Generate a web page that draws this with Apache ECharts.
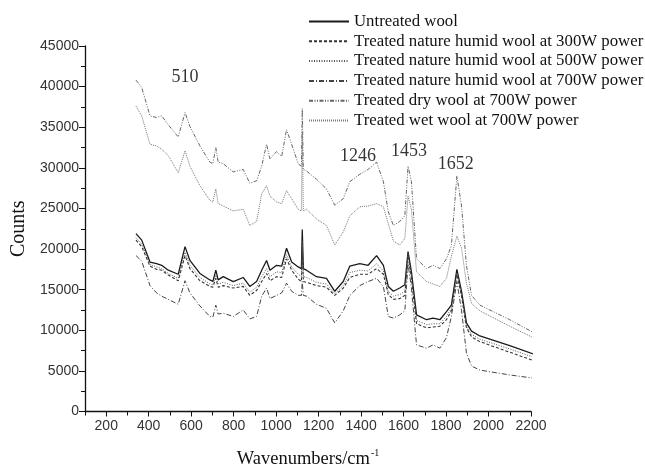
<!DOCTYPE html>
<html>
<head>
<meta charset="utf-8">
<script src="https://cdn.jsdelivr.net/npm/echarts@6/dist/echarts.min.js"></script>
<style>
  html, body { margin: 0; padding: 0; background: #fff; }
  #main { width: 645px; height: 474px; }
</style>
</head>
<body>
<div id="main"></div>
<script>
// wavenumber positions (as drawn against the x axis)
var wavenumbers = [340, 367, 406, 437, 461, 492, 539, 571, 594, 641, 688, 702, 716, 727, 751, 798, 845, 876, 908, 932,
  955, 971, 1002, 1026, 1049, 1073, 1104, 1119, 1123, 1128, 1143, 1190, 1237, 1276, 1316, 1347, 1394, 1433, 1473, 1505,
  1528, 1552, 1582, 1606, 1621, 1637, 1661, 1708, 1739, 1771, 1802, 1825, 1851, 1873, 1896, 1920, 1959, 2100, 2241];

var untreated = [21900, 21100, 18400, 18200, 18000, 17400, 16900, 20300, 18600, 17000, 16200, 16000, 17400, 16200, 16600, 16000, 16500, 15400, 16000, 17400,
  18600, 17400, 18000, 17900, 20100, 18400, 17800, 17600, 22400, 17600, 17400, 16600, 16400, 14800, 16000, 17900, 18200, 18000, 19200, 18000,
  15400, 14800, 15200, 15600, 19700, 17200, 11900, 11300, 11500, 11300, 12300, 13100, 17500, 14800, 10900, 9900, 9300, 8100, 6800];

var humid300 = [21100, 20300, 17900, 17500, 17400, 16800, 16100, 19200, 17600, 16100, 15400, 15300, 16400, 15300, 15500, 15200, 15400, 14300, 14900, 16000,
  17000, 16100, 16600, 16500, 18800, 17400, 16300, 16000, 20700, 16000, 15900, 15500, 15300, 14300, 15200, 16500, 16900, 16900, 17600, 16900,
  14400, 13800, 13900, 14300, 19300, 16400, 10800, 10300, 10400, 10500, 11300, 12400, 16900, 14200, 10300, 9200, 8600, 7300, 6000];

var humid500 = [21400, 20600, 18100, 17800, 17600, 17000, 16400, 19600, 18000, 16500, 15700, 15600, 16800, 15700, 15900, 15500, 15800, 14700, 15300, 16600,
  17600, 16600, 17200, 17100, 19300, 17800, 16900, 16600, 21000, 16600, 16500, 15900, 15700, 14500, 15500, 17100, 17400, 17300, 18200, 17300,
  14800, 14200, 14400, 14800, 19500, 16700, 11200, 10700, 10800, 10800, 11700, 12700, 17100, 14400, 10500, 9500, 8900, 7700, 6400];

var humid700 = [19200, 18500, 15500, 14600, 14200, 13800, 13200, 16100, 14600, 13000, 11700, 11600, 13100, 12000, 12100, 11700, 12500, 11400, 11700, 14200,
  15200, 13900, 14300, 14600, 15800, 14800, 14300, 14300, 16000, 14300, 14200, 13200, 12700, 10900, 12400, 14300, 15500, 16000, 16400, 15400,
  11700, 11500, 11900, 12400, 18200, 15200, 8200, 7800, 8200, 7800, 9100, 11700, 16000, 12400, 7200, 5600, 5100, 4500, 4000];

var dry700 = [40800, 39900, 36400, 36200, 36400, 35300, 33800, 36800, 35100, 32700, 30700, 30500, 32500, 30700, 30500, 29500, 29800, 28100, 28400, 30200,
  32900, 31100, 32000, 31400, 34700, 32900, 30500, 30200, 37300, 29800, 29600, 28600, 27400, 25400, 26200, 28300, 29200, 29800, 30700, 28300,
  24600, 22900, 23400, 24100, 30200, 28300, 18800, 17600, 18000, 17600, 18800, 20400, 29000, 25300, 18000, 14300, 13100, 11300, 9300];

var wet700 = [37600, 36400, 32900, 32700, 32300, 31500, 29400, 32100, 30200, 27800, 26000, 25800, 27400, 25600, 25300, 24700, 24900, 22900, 23400, 26800,
  27800, 26500, 25800, 25600, 27200, 26200, 24900, 24700, 34500, 24700, 24900, 23700, 22900, 20500, 22100, 24100, 25200, 25300, 25600, 25200,
  23100, 21000, 20500, 21300, 26500, 24900, 17200, 16000, 15700, 15400, 16400, 19100, 21600, 20100, 15800, 13300, 12400, 10500, 8700];

var seriesNames = [
  'Untreated wool',
  'Treated nature humid wool at 300W power',
  'Treated nature humid wool at 500W power',
  'Treated nature humid wool at 700W power',
  'Treated dry wool at 700W power',
  'Treated wet wool at 700W power'
];
var seriesValues = [untreated, humid300, humid500, humid700, dry700, wet700];

var xLabelValues = [200, 400, 600, 800, 1000, 1200, 1400, 1600, 1800, 2000, 2200];
var xMinorValues = [100, 300, 500, 700, 900, 1100, 1300, 1500, 1700, 1900, 2100];

var peakTexts = ['510', '1246', '1453', '1652'];
var peakAt = [[571, 41100], [1385, 31400], [1625, 32000], [1846, 30450]];

var lineStyles = [
  { color: '#1a1a1a', width: 1.3, type: 'solid' },
  { color: '#333', width: 1.1, type: [3, 2] },
  { color: '#555', width: 1, type: [1, 1.5] },
  { color: '#444', width: 1, type: [5, 2, 1, 2] },
  { color: '#666', width: 1, type: [4, 1.5, 1, 1.5, 1, 1.5] },
  { color: '#777', width: 1, type: [1, 1] }
];

var myChart = echarts.init(document.getElementById('main'));

var series = seriesNames.map(function (name, i) {
  return {
    name: name,
    type: 'line',
    symbol: 'none',
    clip: false,
    lineStyle: lineStyles[i],
    itemStyle: { color: lineStyles[i].color },
    data: wavenumbers.map(function (x, k) { return [x, seriesValues[i][k]]; })
  };
});

// peak annotations
series.push({
  type: 'scatter',
  symbolSize: 0,
  silent: true,
  data: peakAt.map(function (p, i) {
    return { value: p, label: { show: true, formatter: peakTexts[i] } };
  }),
  label: {
    position: 'inside',
    fontFamily: 'Liberation Serif',
    fontSize: 18,
    color: '#000'
  }
});

option = {
  backgroundColor: '#fff',
  animation: false,
  grid: { left: 85, right: 114, top: 46, bottom: 60 },
  legend: {
    orient: 'vertical',
    left: 303,
    top: 8,
    itemWidth: 40,
    itemHeight: 12,
    itemGap: 2.8,
    data: seriesNames,
    itemStyle: { opacity: 0 },
    textStyle: { fontFamily: 'Liberation Serif', fontSize: 16.8, color: '#111', padding: [0, 0, 0, 0] }
  },
  xAxis: [
    {
      type: 'value',
      min: 100,
      max: 2200,
      name: '{a|Wavenumbers/cm}{b|-1}',
      nameLocation: 'middle',
      nameGap: 37,
      nameTextStyle: {
        rich: {
          a: { fontFamily: 'Liberation Serif', fontSize: 18.5, color: '#111' },
          b: { fontFamily: 'Liberation Serif', fontSize: 10, color: '#111', verticalAlign: 'bottom', padding: [0, 0, 12, 1] }
        }
      },
      axisLine: { lineStyle: { color: '#111', width: 1.3 } },
      axisTick: { show: true, length: 5, customValues: xLabelValues, lineStyle: { color: '#111' } },
      axisLabel: { customValues: xLabelValues, fontFamily: 'Liberation Sans', fontSize: 14, color: '#333', margin: 8,
        formatter: function (v) { return String(v); } },
      splitLine: { show: false }
    },
    {
      type: 'value',
      min: 100,
      max: 2200,
      position: 'bottom',
      axisLine: { show: false },
      axisTick: { show: true, length: 4, customValues: xMinorValues, lineStyle: { color: '#111' } },
      axisLabel: { show: false },
      splitLine: { show: false }
    }
  ],
  yAxis: {
    type: 'value',
    min: 0,
    max: 45000,
    interval: 5000,
    name: 'Counts',
    nameLocation: 'middle',
    nameGap: 54,
    nameTextStyle: { fontFamily: 'Liberation Serif', fontSize: 20, color: '#111' },
    axisLine: { show: true, lineStyle: { color: '#111', width: 1.3 } },
    axisTick: { show: true, length: 6, lineStyle: { color: '#111' } },
    minorTick: { show: true, splitNumber: 2, length: 4, lineStyle: { color: '#111' } },
    axisLabel: { fontFamily: 'Liberation Sans', fontSize: 14, color: '#333', margin: 6,
      formatter: function (v) { return String(v); } },
    splitLine: { show: false }
  },
  series: series
};
myChart.setOption(option);
</script>
</body>
</html>
